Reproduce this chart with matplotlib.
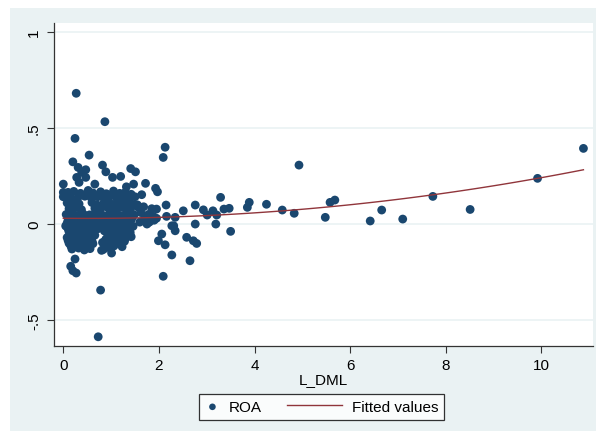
import numpy as np
import matplotlib
matplotlib.use("Agg")
import matplotlib.pyplot as plt
from matplotlib.patches import Rectangle
from matplotlib.legend_handler import HandlerPathCollection

plt.rcParams["font.family"] = ["Liberation Sans", "DejaVu Sans"]

# ROA against L_DML: the scattered points away from the main cloud
x_out = [0.27, 0.87, 0.245, 0.54, 0.20, 0.82, 0.89, 0.31, 0.385, 0.47, 1.41, 1.51,
         1.03, 1.20, 0.28, 0.47, 0.0, 0.66, 0.33, 1.72, 1.47, 1.32, 0.0, 0.0,
         1.64, 1.93, 1.97, 2.09, 2.13, 2.15, 1.95, 2.16, 2.34, 2.51, 2.76, 2.93,
         3.01, 3.13, 3.21, 3.29, 3.36, 3.47, 3.85, 3.89, 2.76, 3.19, 2.31, 2.27,
         2.34, 2.06, 1.99, 2.13, 2.58, 2.72, 2.79, 2.27, 2.65, 2.09, 3.50, 4.25,
         4.58, 4.83, 4.93, 5.48, 5.58, 5.68, 6.42, 6.66, 7.10, 7.73, 8.51, 9.92,
         10.88, 0.245, 0.155, 0.20, 0.27, 0.78, 0.73, 1.23, 1.01, 0.80]
y_out = [0.681, 0.533, 0.446, 0.359, 0.324, 0.307, 0.272, 0.295, 0.269, 0.283, 0.289, 0.272,
         0.243, 0.248, 0.243, 0.243, 0.208, 0.208, 0.217, 0.212, 0.208, 0.194, 0.165, 0.142,
         0.153, 0.186, 0.168, 0.347, 0.400, 0.099, 0.078, 0.040, 0.035, 0.069, 0.099, 0.074,
         0.047, 0.069, 0.047, 0.139, 0.078, 0.082, 0.087, 0.113, 0.000, 0.000, -0.009, -0.009,
         -0.035, -0.052, -0.087, -0.108, -0.069, -0.087, -0.101, -0.161, -0.191, -0.272, -0.038, 0.103,
         0.073, 0.056, 0.307, 0.035, 0.113, 0.125, 0.016, 0.073, 0.026, 0.144, 0.076, 0.238,
         0.394, -0.182, -0.220, -0.243, -0.255, -0.344, -0.587, -0.118, -0.151, -0.137]

# main cloud of firms with low L_DML
x_core = [0.10, 0.22, 0.36, 0.52, 0.62, 0.78, 0.90, 1.05, 1.18, 1.30, 1.42,
          0.15, 0.30, 0.45, 0.58, 0.72, 0.86, 0.98, 1.12, 1.25, 1.38, 1.50,
          0.08, 0.20, 0.33, 0.60, 0.70, 0.84, 0.95, 1.08, 1.20, 1.33, 1.45,
          0.12, 0.25, 0.38, 0.66, 0.78, 0.92, 1.04, 1.16, 1.30, 1.40, 1.55,
          0.06, 0.18, 0.30, 0.42, 0.55, 0.68, 0.82, 0.96, 1.10, 1.22, 1.36, 1.48,
          0.10, 0.22, 0.35, 0.48, 0.60, 0.74, 0.88, 1.00, 1.14, 1.28, 1.42,
          0.05, 0.16, 0.28, 0.40, 0.52, 0.66, 0.80, 0.94, 1.06, 1.20, 1.34, 1.46,
          0.12, 0.24, 0.36, 0.50, 0.62, 0.86, 0.98, 1.12, 1.26, 1.40,
          0.08, 0.20, 0.32, 0.45, 0.58, 0.90, 1.02, 1.16, 1.30, 1.42,
          0.12, 0.25, 0.38, 0.50, 0.62, 0.82, 0.96, 1.10, 1.24,
          0.18, 0.32, 0.44, 0.56, 0.84, 0.98,
          1.55, 1.62, 1.70, 1.78, 1.85, 1.90, 1.60, 1.75, 1.88, 1.95, 1.68, 1.80,
          0.14, 0.27, 0.40, 0.62, 0.76, 0.90, 1.03, 1.17, 1.31, 1.44,
          0.08, 0.19, 0.31, 0.44, 0.57, 0.70, 0.84, 0.97, 1.10, 1.24, 1.38,
          0.10, 0.21, 0.33, 0.46, 0.58, 0.73, 0.92, 1.05, 1.19, 1.33,
          0.14, 0.27, 0.40, 0.52, 0.66, 0.95, 1.08, 1.22, 1.36,
          0.10, 0.22, 0.35, 0.47, 0.60, 0.88, 1.00, 1.14, 1.28,
          0.16, 0.29, 0.42, 0.54, 0.92, 1.06]
y_core = [0.165, 0.170, 0.160, 0.175, 0.162, 0.168, 0.158, 0.172, 0.160, 0.166, 0.155,
          0.140, 0.135, 0.145, 0.138, 0.142, 0.132, 0.146, 0.136, 0.140, 0.130, 0.142,
          0.110, 0.115, 0.105, 0.112, 0.100, 0.108, 0.118, 0.104, 0.110, 0.114, 0.102,
          0.080, 0.085, 0.075, 0.082, 0.078, 0.088, 0.076, 0.084, 0.080, 0.072, 0.090,
          0.050, 0.055, 0.045, 0.052, 0.048, 0.056, 0.046, 0.054, 0.050, 0.044, 0.058, 0.048,
          0.020, 0.025, 0.015, 0.022, 0.018, 0.026, 0.014, 0.024, 0.020, 0.016, 0.022,
          -0.010, -0.005, -0.015, -0.008, -0.012, -0.004, -0.016, -0.010, -0.006, -0.014, -0.008, -0.012,
          -0.040, -0.035, -0.045, -0.038, -0.042, -0.036, -0.046, -0.040, -0.034, -0.044,
          -0.070, -0.075, -0.065, -0.072, -0.068, -0.076, -0.064, -0.070, -0.074, -0.066,
          -0.100, -0.095, -0.105, -0.098, -0.102, -0.096, -0.106, -0.100, -0.094,
          -0.130, -0.125, -0.135, -0.128, -0.132, -0.126,
          0.100, 0.060, 0.030, 0.050, 0.080, 0.020, 0.010, 0.000, 0.040, 0.030, 0.090, 0.010,
          0.035, 0.030, 0.040, 0.034, 0.038, 0.032, 0.036, 0.030, 0.040, 0.034,
          0.005, 0.008, 0.000, 0.006, 0.002, 0.010, 0.004, 0.000, 0.008, 0.006, 0.002,
          -0.025, -0.020, -0.030, -0.022, -0.028, -0.024, -0.026, -0.020, -0.030, -0.024,
          -0.055, -0.050, -0.060, -0.052, -0.058, -0.054, -0.056, -0.050, -0.060,
          -0.085, -0.080, -0.090, -0.082, -0.088, -0.084, -0.086, -0.080, -0.090,
          -0.115, -0.110, -0.120, -0.112, -0.118, -0.114]

ldml = np.array(x_out + x_core)
roa = np.array(y_out + y_core)

# quadratic fit, as in Stata's qfit
coef = np.polyfit(ldml, roa, 2)
fit_x = np.linspace(ldml.min(), ldml.max(), 100)
fit_y = np.polyval(coef, fit_x)

xticks = [0, 2, 4, 6, 8, 10]
yticks = [-0.5, 0, 0.5, 1]
ytick_labels = ["-.5", "0", ".5", "1"]

navy = "#1A476F"
maroon = "#90353B"
bg = "#EAF2F3"


class ShortDotHandler(HandlerPathCollection):
    # narrower key box for the marker entry
    def legend_artist(self, legend, orig_handle, fontsize, handlebox):
        handlebox.width = 0.9 * fontsize
        return super().legend_artist(legend, orig_handle, fontsize, handlebox)


fig = plt.figure(figsize=(5.96, 4.39), dpi=100)
fig.patch.set_facecolor("white")
fig.patches.append(Rectangle((9.5 / 596, 1 - 432 / 439), 1 - 9.5 / 596, (432 - 9) / 439,
                             transform=fig.transFigure, facecolor=bg, edgecolor="none", zorder=0))

ax = fig.add_axes([53.5 / 596, 1 - 347 / 439, (593 - 53.5) / 596, (347 - 24) / 439])
ax.set_facecolor("white")
ax.set_zorder(1)

for yv in yticks:
    ax.axhline(yv, color=bg, lw=1.2, zorder=0)

pts = ax.scatter(ldml, roa, s=40, color=navy, edgecolors="none", zorder=2, label="ROA")
ax.plot(fit_x, fit_y, color=maroon, lw=1.0, zorder=3, label="Fitted values")

ax.set_xlim(-0.205, 11.08)
ax.set_ylim(-0.635, 1.047)
ax.set_xticks(xticks)
ax.set_yticks(yticks)
ax.set_yticklabels(ytick_labels, rotation=90, va="center")
ax.tick_params(axis="both", direction="out", length=5, width=0.8, color="#333333",
               labelsize=11, pad=4)
for side in ["top", "right"]:
    ax.spines[side].set_visible(False)
for side in ["left", "bottom"]:
    ax.spines[side].set_color("#333333")
    ax.spines[side].set_linewidth(0.9)
ax.set_xlabel("L_DML", fontsize=11, labelpad=0)

leg = fig.legend(loc="center", bbox_to_anchor=(0.54, 0.071), ncol=2, fontsize=11,
                 frameon=True, fancybox=False, handlelength=3.6, columnspacing=1.6,
                 markerscale=0.75, borderpad=0.4, handletextpad=0.65,
                 handler_map={pts: ShortDotHandler()})
leg.get_frame().set_edgecolor("black")
leg.get_frame().set_linewidth(0.9)

fig.savefig("out.png", dpi=100)
